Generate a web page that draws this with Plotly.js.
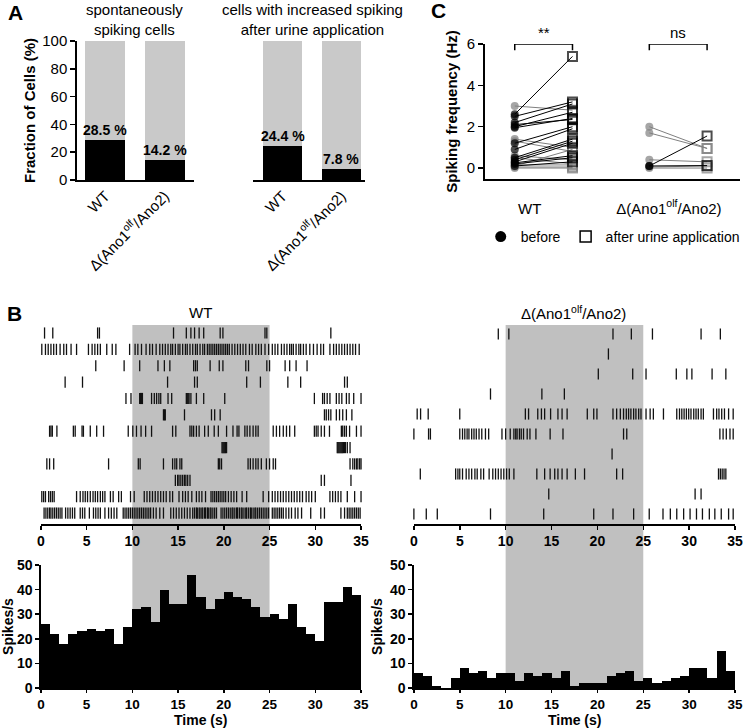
<!DOCTYPE html>
<html>
<head>
<meta charset="utf-8">
<script src="https://cdn.plot.ly/plotly-3.0.1.min.js"></script>
<style>html,body{margin:0;padding:0;background:#fff}#chart{width:745px;height:728px}</style>
</head>
<body>
<div id="chart"></div>
<script>
// ---------------- DATA ----------------
// Panel A
const aCategories = ['WT', 'Δ(Ano1<sup>olf</sup>/Ano2)'];
const aTotal = [100, 100];
const aSpontaneous = [28.5, 14.2];
const aIncreased = [24.4, 7.8];

// Panel C (spiking frequency, Hz) – paired cells
const cGroupPos = {WT: [0, 1], KO: [2.33, 3.33]};
const cGroupLabels = ['WT', 'Δ(Ano1<sup>olf</sup>/Ano2)'];
const cGroupLabelPos = [0.26, 2.67];
const wtBefore = [2.6, 3.0, 2.5, 2.2, 2.0, 1.95, 2.1, 1.4, 1.3, 1.2, 0.9, 0.6, 0.5, 0.4, 0.3, 0.25, 0.2, 0.5, 0.1, 0.1, 0.05, 0.0, 0.15];
const wtAfter  = [5.4, 2.8, 3.2, 3.1, 2.7, 2.4, 2.35, 1.0, 0.8, 2.0, 1.9, 0.4, 1.4, 1.3, 1.2, 0.6, 0.5, 0.2, 0.3, 0.9, 0.05, 0.0, 0.15];
const wtResponder = [1, 0, 1, 1, 1, 1, 1, 0, 0, 1, 1, 0, 1, 1, 1, 1, 1, 0, 1, 0, 0, 0, 0];
const koBefore = [2.0, 1.7, 0.1, 0.4, 0.1, 0.0, 0.05];
const koAfter  = [0.95, 0.95, 1.55, 0.3, 0.12, 0.0, 0.1];
const koResponder = [0, 0, 1, 0, 1, 0, 0];
const cSignificance = ['**', 'ns'];

// Panel B – stimulus window (s)
const stimulus = [10, 25];
// Raster, WT (spike times in s, one list per cell)
const wtSpikes = [
 [0.4, 1.3, 6.2, 6.4, 14.5, 15.9, 16.4, 16.8, 17.3, 17.8, 19.6, 19.9, 24.5, 24.7, 31.7],
 [0.1, 0.5, 0.8, 1.1, 1.4, 1.7, 2.1, 2.5, 2.8, 3.3, 3.9, 5.2, 5.6, 5.9, 6.2, 6.5, 7.2, 7.8, 8.2, 9.7, 10.3, 10.6, 11.0, 11.5, 11.9, 12.2, 12.6, 13.0, 13.3, 13.6, 13.9, 14.2, 14.4, 14.7, 15.0, 15.2, 15.5, 15.8, 16.0, 16.3, 16.6, 16.9, 17.1, 17.4, 17.7, 17.9, 18.2, 18.4, 18.6, 18.8, 19.0, 19.2, 19.4, 19.6, 19.8, 20.0, 20.2, 20.4, 20.6, 20.9, 21.2, 21.5, 21.8, 22.1, 22.4, 22.8, 23.1, 23.5, 23.8, 24.1, 24.5, 24.9, 25.3, 25.6, 25.9, 26.3, 26.6, 26.9, 27.2, 27.4, 27.6, 27.9, 28.2, 28.4, 28.7, 29.0, 29.4, 29.8, 30.2, 30.6, 30.9, 31.6, 32.0, 32.3, 32.6, 32.9, 33.2, 33.5, 33.8, 34.1, 34.4, 34.8],
 [6.0, 9.1, 10.8, 12.8, 13.5, 14.1, 16.7, 16.9, 17.1, 18.5, 19.5, 19.9, 22.4, 22.7, 24.7, 25.0, 26.7, 27.2, 27.9, 29.1],
 [2.65, 4.55, 13.85, 16.8, 17.1, 22.5, 24.0, 27.0, 28.4, 33.2, 33.5],
 [9.3, 9.85, 10.8, 10.9, 11.0, 11.1, 12.1, 12.4, 12.65, 12.9, 13.1, 13.9, 14.3, 15.9, 16.0, 16.1, 16.2, 16.4, 17.0, 17.8, 20.1, 29.9, 30.8, 31.0, 31.3, 31.6, 32.3, 32.6, 32.9, 33.4, 33.7, 34.2, 35.0],
 [13.4, 13.5, 13.6, 15.7, 18.65, 19.0, 19.6, 31.0, 31.2, 31.45, 31.7, 32.3, 32.65, 33.0, 33.4, 34.0],
 [0.95, 1.1, 1.25, 1.75, 3.55, 3.75, 4.5, 4.65, 5.4, 6.1, 6.85, 9.55, 10.05, 10.45, 10.95, 11.45, 12.1, 14.4, 14.75, 16.3, 16.5, 16.7, 17.0, 17.3, 17.9, 18.3, 18.95, 19.4, 20.3, 21.0, 21.45, 21.65, 22.3, 22.55, 22.85, 23.2, 23.5, 23.75, 25.4, 25.75, 26.1, 26.5, 26.85, 27.2, 27.75, 29.9, 30.1, 30.3, 30.65, 31.0, 31.55, 32.85, 33.0, 33.2, 33.4, 33.75, 34.5, 35.0],
 [19.8, 19.9, 20.0, 20.1, 20.2, 20.3, 32.4, 32.5, 32.6, 32.7, 32.8, 32.9, 33.0, 33.1, 33.2, 33.3, 33.5, 33.8],
 [0.65, 0.95, 1.4, 7.4, 10.65, 10.85, 13.4, 14.4, 14.65, 14.85, 15.2, 15.4, 19.4, 19.55, 19.75, 22.65, 22.9, 23.2, 23.5, 23.75, 24.1, 24.65, 25.0, 25.4, 25.65, 33.8, 34.1, 34.3, 34.5, 34.65, 34.85, 35.0],
 [14.7, 14.95, 15.1, 15.3, 15.5, 15.7, 15.85, 16.05, 16.3, 30.65, 31.0, 33.9],
 [0.1, 0.3, 0.5, 0.85, 1.05, 1.25, 1.45, 3.9, 4.3, 4.6, 4.85, 5.1, 5.4, 5.7, 5.95, 6.2, 6.5, 6.75, 7.0, 7.6, 7.9, 8.5, 8.8, 9.8, 10.2, 11.3, 11.6, 11.9, 12.2, 12.5, 12.8, 13.1, 13.4, 13.7, 14.1, 14.4, 15.1, 15.5, 15.8, 16.1, 16.5, 17.0, 17.3, 17.6, 18.0, 18.6, 18.8, 19.0, 19.2, 19.4, 19.6, 19.8, 20.0, 20.2, 20.5, 20.8, 21.1, 21.4, 22.0, 22.5, 24.3, 24.9, 25.3, 25.6, 25.9, 26.2, 26.5, 26.8, 27.1, 27.4, 27.7, 28.0, 28.3, 28.6, 29.0, 29.3, 29.6, 30.0, 31.6, 31.9, 32.2, 32.5, 32.8, 33.5, 34.3, 35.0],
 [0.35, 0.55, 0.75, 0.95, 1.1, 1.3, 1.5, 1.7, 1.9, 2.1, 2.3, 2.7, 2.95, 3.2, 3.45, 3.7, 4.3, 4.55, 4.8, 5.3, 5.75, 6.0, 6.25, 6.5, 7.0, 7.4, 7.7, 8.0, 8.3, 9.0, 9.2, 9.4, 9.6, 9.8, 10.0, 10.2, 10.4, 10.6, 10.8, 11.0, 11.2, 11.4, 11.6, 11.8, 12.0, 12.3, 12.6, 13.0, 13.4, 14.2, 14.5, 14.8, 15.1, 15.4, 15.7, 16.0, 16.3, 16.6, 16.8, 17.0, 17.1, 17.3, 17.4, 17.6, 17.7, 17.9, 18.0, 18.2, 18.3, 18.5, 18.6, 18.8, 19.0, 19.2, 19.7, 19.9, 20.1, 20.3, 20.5, 20.7, 20.9, 21.0, 21.2, 21.4, 21.5, 21.7, 21.9, 22.0, 22.2, 22.4, 22.5, 22.7, 22.9, 23.0, 23.2, 23.4, 23.5, 23.7, 23.9, 24.1, 24.3, 24.5, 24.7, 24.9, 25.3, 25.5, 25.7, 25.9, 26.1, 26.3, 26.5, 26.8, 27.1, 27.4, 27.8, 28.1, 28.5, 29.5, 30.6, 31.0, 32.8, 33.2, 33.5, 33.7, 33.9, 34.1, 34.3, 34.5, 34.7, 34.9]
];
// Raster, Δ(Ano1olf/Ano2)
const koSpikes = [
 [9.2, 10.35, 21.7, 23.7, 26.0, 31.3, 33.4],
 [21.2],
 [20.1, 23.85, 25.3, 28.6, 29.75, 30.3, 32.5, 34.0],
 [8.35, 13.95, 16.4],
 [0.36, 0.73, 1.56, 5.0, 12.15, 12.5, 13.5, 13.9, 14.25, 14.9, 15.7, 16.15, 16.7, 18.9, 19.6, 19.95, 21.7, 22.1, 22.5, 22.85, 23.15, 23.4, 23.65, 23.95, 24.2, 24.5, 24.75, 25.3, 25.75, 26.1, 27.2, 28.65, 28.95, 29.2, 29.45, 29.7, 29.95, 30.2, 30.5, 30.75, 31.0, 31.3, 31.55, 32.65, 33.0, 33.25, 33.55, 33.85, 34.3, 34.8],
 [0.0, 1.6, 1.8, 5.0, 5.3, 5.55, 5.8, 6.0, 6.3, 6.55, 6.8, 7.1, 7.4, 7.8, 8.15, 9.6, 10.0, 10.5, 10.9, 11.1, 11.25, 11.5, 11.7, 11.95, 12.35, 12.65, 13.3, 14.85, 16.25, 22.85, 23.2, 33.35, 33.7, 34.05, 34.45, 34.8],
 [21.6],
 [0.7, 4.55, 4.8, 5.0, 5.3, 5.7, 6.0, 6.3, 6.65, 6.9, 7.3, 7.6, 8.2, 8.6, 8.9, 9.2, 9.5, 9.8, 10.1, 10.4, 10.9, 13.4, 14.25, 14.85, 15.35, 15.7, 16.15, 16.7, 17.6, 18.6, 22.1, 22.75, 33.2, 33.4, 33.6, 33.8, 34.0],
 [14.7, 30.65, 31.3],
 [0.0, 1.35, 2.55, 8.35, 14.15, 19.6, 21.7, 23.95, 25.65, 27.15, 27.95, 28.65, 29.4, 30.1, 30.8, 31.45, 32.2, 32.8, 33.5, 34.3, 34.8]
];
// PSTH (1-s bins)
const binStarts = [0,1,2,3,4,5,6,7,8,9,10,11,12,13,14,15,16,17,18,19,20,21,22,23,24,25,26,27,28,29,30,31,32,33,34];
const wtRate = [26,22,18,22,23,24,23,24,18,25,32,33,27,40,34,34,46,37,32,36,39,37,36,33,29,30,28,34,25,22,19,35,35,41,38];
const koRate = [6,5,1,0,4,8,6,7,4,6,6,3,6,5,6,4,7,1,2,2,2,5,6,7,3,4,2,3,4,5,8,8,4,15,7];
const bXTicks = [0,5,10,15,20,25,30,35];
const bYTicks = [0,10,20,30,40,50];
const timeTitle = 'Time (s)';

// ---------------- HELPERS ----------------
const W = 745, H = 728;
const FONT = 'Liberation Sans, Arial, sans-serif';
const px = v => v / W;            // horizontal pixel -> paper
const py = v => (H - v) / H;      // vertical pixel -> paper
const BLACK = '#000';
const GREY = '#808080';
const base = {showgrid:false, zeroline:false, showline:true, linecolor:BLACK, linewidth:1.5,
  ticks:'outside', tickcolor:BLACK, tickwidth:1.5, ticklen:4, fixedrange:true,
  tickfont:{family:FONT, size:15, color:BLACK}};
const ax = o => Object.assign({}, base, o);
const boldTick = {family:FONT, size:14, color:BLACK, weight:'bold'};
const boldTickSmall = {family:FONT, size:13.5, color:BLACK, weight:'bold'};

const traces = [];
// Panel A
[['x','y',aSpontaneous],['x2','y2',aIncreased]].forEach(([xa,ya,vals])=>{
  traces.push({type:'bar', x:aCategories, y:aTotal, xaxis:xa, yaxis:ya, width:0.67,
    marker:{color:'#c9c9c9'}, hoverinfo:'skip', showlegend:false});
  traces.push({type:'bar', x:aCategories, y:vals, xaxis:xa, yaxis:ya, width:0.67,
    marker:{color:BLACK}, hoverinfo:'skip', showlegend:false});
});

// Panel C
function addPairs(before, after, resp, pos){
  [0,1].forEach(pass=>{
    before.forEach((b,i)=>{
      if (resp[i] !== pass) return;
      const col = resp[i] ? BLACK : GREY;
      traces.push({type:'scatter', mode:'lines+markers', x:pos, y:[b, after[i]],
        xaxis:'x3', yaxis:'y3', showlegend:false, hoverinfo:'skip', cliponaxis:false,
        line:{color:col, width:1},
        marker:{symbol:['circle','square-open'], size:[8,9], color:col,
          line:{color:col, width:[0,2]}}});
    });
  });
}
addPairs(wtBefore, wtAfter, wtResponder, cGroupPos.WT);
addPairs(koBefore, koAfter, koResponder, cGroupPos.KO);
// significance brackets
[cGroupPos.WT, cGroupPos.KO].forEach(pos=>{
  traces.push({type:'scatter', mode:'lines', x:[pos[0],pos[0],pos[1],pos[1]], y:[5.7,6,6,5.7],
    xaxis:'x3', yaxis:'y3', line:{color:BLACK, width:1.5}, cliponaxis:false,
    showlegend:false, hoverinfo:'skip'});
});
// legend entries
traces.push({type:'scatter', mode:'markers', x:[null], y:[null], xaxis:'x3', yaxis:'y3',
  name:'before', marker:{symbol:'circle', size:11, color:BLACK}});
traces.push({type:'scatter', mode:'markers', x:[null], y:[null], xaxis:'x3', yaxis:'y3',
  name:'after urine application', marker:{symbol:'square-open', size:11, color:BLACK, line:{color:BLACK, width:1.5}}});

// Panel B rasters
function raster(rows, xa, ya){
  const xs = [], ys = [];
  rows.forEach((r,i)=>r.forEach(t=>{xs.push(t); ys.push(i+1);}));
  traces.push({type:'scatter', mode:'markers', x:xs, y:ys, xaxis:xa, yaxis:ya,
    showlegend:false, hoverinfo:'skip', cliponaxis:false,
    marker:{symbol:'line-ns-open', size:8, color:'#111', line:{color:'#111', width:1.3}}});
}
raster(wtSpikes, 'x4', 'y4');
raster(koSpikes, 'x5', 'y5');
// PSTH
[[wtRate,'x6','y6'],[koRate,'x7','y7']].forEach(([r,xa,ya])=>{
  traces.push({type:'bar', x:binStarts, y:r, offset:0, width:1, xaxis:xa, yaxis:ya,
    marker:{color:BLACK, line:{width:0}}, showlegend:false, hoverinfo:'skip'});
});

// ---------------- LAYOUT ----------------
const titleFont = (size) => ({family:FONT, size, color:BLACK, weight:'bold'});
const layout = {
  width:W, height:H, margin:{l:0,r:0,t:0,b:0}, paper_bgcolor:'#fff', plot_bgcolor:'rgba(0,0,0,0)',
  barmode:'overlay', bargap:0, font:{family:FONT, color:BLACK},
  showlegend:true,
  legend:{orientation:'h', x:px(482), xanchor:'left', y:py(237), yanchor:'middle',
    font:{family:FONT, size:14, color:BLACK}, bgcolor:'rgba(0,0,0,0)', itemwidth:30, tracegroupgap:0},
  // Panel A left
  xaxis: ax({domain:[px(77), px(195)], anchor:'y', type:'category', range:[-0.48, 1.5],
    ticks:'', tickangle:-45, tickfont:{family:FONT, size:15, color:BLACK}}),
  yaxis: ax({domain:[py(180), py(41)], anchor:'x', range:[0,100], dtick:20, ticklen:5,
    title:{text:'Fraction of Cells (%)', font:titleFont(15), standoff:3}}),
  // Panel A right
  xaxis2: ax({domain:[px(254), px(366)], anchor:'y2', type:'category', range:[-0.5, 1.4],
    ticks:'', tickangle:-45, tickfont:{family:FONT, size:15, color:BLACK}}),
  yaxis2: {domain:[py(180), py(41)], anchor:'x2', range:[0,100], visible:false, fixedrange:true},
  // Panel C
  xaxis3: ax({domain:[px(486), px(742)], anchor:'y3', range:[-0.52, 3.9],
    tickvals:cGroupLabelPos, ticktext:cGroupLabels, ticklen:15, tickcolor:'rgba(0,0,0,0)'}),
  yaxis3: ax({domain:[py(179), py(44)], anchor:'x3', range:[-0.53, 6], tickvals:[0,2,4,6], ticklen:5,
    title:{text:'Spiking frequency (Hz)', font:titleFont(15), standoff:5}}),
  // Panel B rasters
  xaxis4: ax({domain:[px(41), px(362)], anchor:'y4', range:[0,35], tickvals:bXTicks, tickfont:boldTick}),
  yaxis4: {domain:[py(524), py(325)], anchor:'x4', range:[12.67, 0.51], visible:false, fixedrange:true},
  xaxis5: ax({domain:[px(415), px(737)], anchor:'y5', range:[0,35], tickvals:bXTicks, tickfont:boldTick}),
  yaxis5: {domain:[py(524), py(325)], anchor:'x5', range:[10.5, 0.55], visible:false, fixedrange:true},
  // PSTH
  xaxis6: ax({domain:[px(41), px(362)], anchor:'y6', range:[0,35], tickvals:bXTicks, tickfont:boldTickSmall, ticklen:3}),
  yaxis6: ax({domain:[py(688), py(565)], anchor:'x6', range:[0,50], tickvals:bYTicks, tickfont:boldTick,
    title:{text:'Spikes/s', font:titleFont(14), standoff:4}}),
  xaxis7: ax({domain:[px(415), px(737)], anchor:'y7', range:[0,35], tickvals:bXTicks, tickfont:boldTickSmall, ticklen:3}),
  yaxis7: ax({domain:[py(688), py(565)], anchor:'x7', range:[0,50], tickvals:bYTicks, tickfont:boldTick,
    title:{text:'Spikes/s', font:titleFont(14), standoff:4}}),
  shapes: [
    {type:'rect', xref:'x4', yref:'paper', x0:stimulus[0], x1:stimulus[1], y0:py(688), y1:py(325),
      fillcolor:'#c0c0c0', line:{width:0}, layer:'below'},
    {type:'rect', xref:'x5', yref:'paper', x0:stimulus[0], x1:stimulus[1], y0:py(688), y1:py(325),
      fillcolor:'#c0c0c0', line:{width:0}, layer:'below'}
  ],
  annotations: []
};
const ann = layout.annotations;
const txt = (text, x, y, size, bold, extra) => ann.push(Object.assign({
  text, x:px(x), y:py(y), xref:'paper', yref:'paper', showarrow:false, xanchor:'center', yanchor:'middle',
  font:{family:FONT, size, color:BLACK, weight: bold ? 'bold' : 'normal'}}, extra||{}));
// panel letters
txt('A', 16, 12, 21, true);
txt('B', 15, 313, 21, true);
txt('C', 440, 11, 21, true);
// panel A titles
txt('spontaneously<br>spiking cells', 135, 19, 15, false);
txt('cells with increased spiking<br>after urine application', 313, 19, 15, false);
// panel A value labels
[[aSpontaneous,'x','y'],[aIncreased,'x2','y2']].forEach(([vals,xa,ya])=>{
  vals.forEach((v,i)=>ann.push({text:v.toFixed(1)+' %', x:aCategories[i], y:v, xref:xa, yref:ya,
    showarrow:false, yanchor:'bottom', yshift:0, font:{family:FONT, size:14, color:BLACK, weight:'bold'}}));
});
// panel C significance
[cGroupPos.WT, cGroupPos.KO].forEach((pos,i)=>ann.push({text:cSignificance[i], x:(pos[0]+pos[1])/2, y:6,
  xref:'x3', yref:'y3', showarrow:false, yanchor:'bottom', yshift:1, font:{family:FONT, size:15, color:BLACK}}));
// panel B titles
txt('WT', 201, 312, 15, false);
txt('Δ(Ano1<sup>olf</sup>/Ano2)', 575, 312, 15, false);
// PSTH x-axis titles (placed just under the tick labels)
[['x6'],['x7']].forEach(([xa])=>ann.push({text:timeTitle, x:17.5, xref:xa, y:0, yref:'paper',
  yanchor:'bottom', yshift:-1, showarrow:false, borderpad:0, font:titleFont(14)}));

Plotly.newPlot('chart', traces, layout, {staticPlot:true});
</script>
</body>
</html>
